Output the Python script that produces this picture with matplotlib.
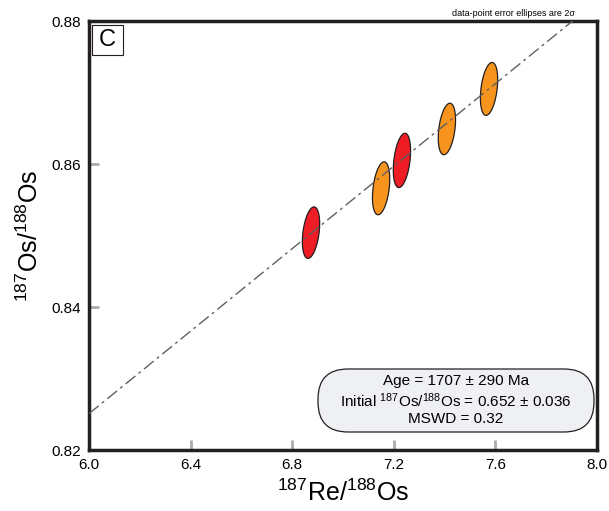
import numpy as np
import matplotlib.pyplot as plt
from matplotlib.patches import Polygon, FancyBboxPatch, Rectangle

plt.rcParams["font.family"] = ["Liberation Sans", "DejaVu Sans"]
plt.rcParams["mathtext.fontset"] = "custom"
plt.rcParams["mathtext.rm"] = "Liberation Sans"
plt.rcParams["mathtext.it"] = "Liberation Sans:italic"

# Re-Os isotope data (2 sigma ellipses)
re_os = [6.874, 7.150, 7.232, 7.409, 7.575]
re_os_err = [0.034, 0.034, 0.034, 0.034, 0.034]
os_os = [0.8504, 0.8566, 0.8605, 0.8649, 0.8705]
os_os_err = [0.0036, 0.0037, 0.0038, 0.0036, 0.0037]
rho = [0.35, 0.35, 0.35, 0.35, 0.35]
colors = ["#ee1c25", "#f7941d", "#ee1c25", "#f7941d", "#f7941d"]

# isochron result
age_ma = 1707
initial_ratio = 0.652
decay_const = 1.666e-11

x_ticks = [6.0, 6.4, 6.8, 7.2, 7.6, 8.0]
y_ticks = [0.82, 0.84, 0.86, 0.88]

fig = plt.figure(figsize=(6.09, 5.11), dpi=100)
ax = fig.add_axes([89 / 609, 61 / 511, 508 / 609, 429 / 511])
ax.set_xlim(6.0, 8.0)
ax.set_ylim(0.82, 0.88)

# isochron line
slope = np.exp(decay_const * age_ma * 1e6) - 1
xl = np.array([6.0, 8.0])
ax.plot(xl, initial_ratio + slope * xl, color="#606060", lw=1.0,
        dashes=(9, 3, 2, 3), zorder=3)

t = np.linspace(0, 2 * np.pi, 200)
for x, sx, y, sy, r, c in zip(re_os, re_os_err, os_os, os_os_err, rho, colors):
    ex = x + sx * np.cos(t)
    ey = y + sy * (r * np.cos(t) + np.sqrt(1 - r ** 2) * np.sin(t))
    ax.add_patch(Polygon(np.column_stack([ex, ey]), closed=True, facecolor=c,
                         edgecolor="#231f20", lw=0.9, zorder=2))

ax.set_xticks(x_ticks)
ax.set_yticks(y_ticks)
ax.set_xticklabels([f"{v:.1f}" for v in x_ticks])
ax.set_yticklabels([f"{v:.2f}" for v in y_ticks])
ax.tick_params(direction="in", length=7, width=2, color="#aaaaaa",
               labelsize=11, pad=6)
for s in ax.spines.values():
    s.set_linewidth(2.5)
    s.set_color("#231f20")

ax.set_xlabel(r"$^{187}$Re/$^{188}$Os", fontsize=18, labelpad=5)
ax.set_ylabel(r"$^{187}$Os/$^{188}$Os", fontsize=18, labelpad=6)

# panel letter
ax.add_patch(Rectangle((0.0059, 0.9207), 0.061, 0.070, transform=ax.transAxes,
                       facecolor="white", edgecolor="#231f20", lw=0.8,
                       zorder=4))
ax.text(0.0364, 0.9557, "C", transform=ax.transAxes, fontsize=17,
        ha="center", va="center", zorder=5)

fig.text(575 / 609, 1 - 13 / 511, "data-point error ellipses are 2σ",
         fontsize=6.5, ha="right", va="center")

# results box (pill shape, in inches)
box = FancyBboxPatch((3.18, 0.79), 2.76, 0.63,
                     boxstyle="round,pad=0,rounding_size=0.3",
                     transform=fig.dpi_scale_trans, facecolor="#eef0f3",
                     edgecolor="#231f20", lw=0.9, zorder=5)
fig.patches.append(box)
txt = (f"Age = {age_ma} ± 290 Ma\n"
       f"Initial $^{{187}}$Os/$^{{188}}$Os = {initial_ratio:.3f} ± 0.036\n"
       "MSWD = 0.32")
fig.text(456 / 609, 1 - 400 / 511, txt, fontsize=11, ha="center",
         va="center", linespacing=1.2, zorder=6)

fig.savefig("out.png", dpi=100)
